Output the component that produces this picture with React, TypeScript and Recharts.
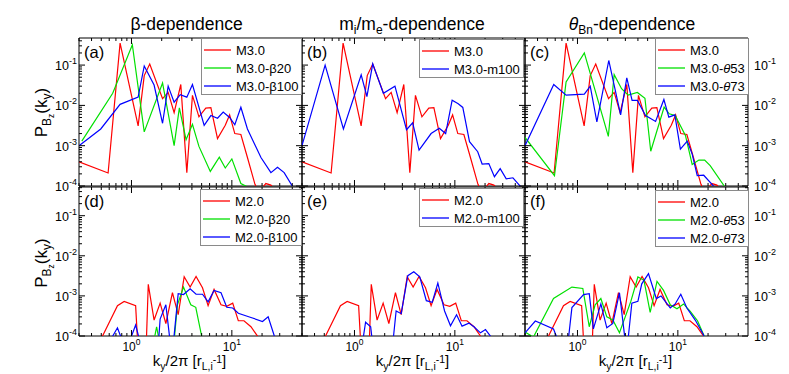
import React from 'react';
import { LineChart, Line, XAxis, YAxis, ReferenceArea } from 'recharts';

const FONT = '"Liberation Sans", Arial, Helvetica, sans-serif';
const W = 789;
const H = 374;

const RED = '#ff0000';
const GREEN = '#00e000';
const BLUE = '#0000ff';

// ---------- data: k_y/2pi values and P_Bz(k_y) values ----------
// top row
const M30_K = [0.3, 0.585, 0.77, 1.165, 1.34, 1.52, 2.04, 2.32, 2.66, 3.1, 3.56, 4.05, 4.7, 5.5, 6.18, 7.2, 8.6, 9.5, 10.7, 12.3, 14.3, 17.0, 18.5, 21.8, 24.5, 28.5];
const M30_P = [4.0e-4, 2.1e-4, 0.35, 3.1e-3, 0.055, 0.106, 0.0147, 0.021, 0.0066, 0.033, 2.15e-4, 0.0177, 0.0052, 0.0086, 0.0088, 1.5e-3, 3.2e-3, 5.8e-3, 2.0e-3, 1.9e-3, 5.1e-4, 1.1e-4, 7e-5, 1.15e-4, 1.05e-4, 7e-5];

const M30_B20_K = [0.32, 0.65, 1.02, 1.34, 2.04, 2.66, 3.0, 3.5, 4.05, 4.7, 6.1, 7.5, 8.6, 10.0, 12.3, 14.3, 16.0];
const M30_B20_P = [1.3e-3, 0.02, 0.32, 2.2e-3, 0.036, 1.0e-3, 8.7e-3, 1.4e-3, 3.4e-3, 9.6e-4, 2.3e-4, 5.2e-4, 2.8e-4, 4.7e-4, 1.15e-4, 9.5e-5, 7e-5];

const M30_B100_K = [0.3, 0.494, 0.77, 1.165, 1.34, 1.68, 2.04, 2.32, 2.66, 3.06, 3.56, 4.05, 5.3, 6.18, 7.2, 8.2, 9.5, 10.7, 12.3, 14.3, 19.5, 24.5, 28.5, 33.2, 40, 45];
const M30_B100_P = [1.0e-3, 2.6e-3, 0.0106, 0.016, 0.095, 0.032, 3.6e-3, 0.03, 0.012, 0.0185, 0.016, 0.033, 3.2e-3, 5.6e-3, 4.8e-3, 6.8e-3, 5.0e-3, 3.3e-3, 9.0e-3, 2.6e-3, 5.1e-4, 2.15e-4, 2.9e-4, 2.15e-4, 1.0e-4, 5.6e-5];

const M30_M100_K = [0.3, 0.51, 0.776, 1.166, 1.33, 1.52, 1.94, 2.53, 3.3, 3.8, 4.4, 5.8, 7.0, 8.1, 9.4, 10.8, 12.0, 14.0, 16.9, 18.7, 21.8, 24.8, 28.3, 32.5, 37.9, 44.7, 48];
const M30_M100_P = [1.0e-3, 0.1, 2.6e-3, 0.057, 0.0166, 0.107, 0.02, 0.03, 2.5e-3, 3.7e-3, 7.8e-4, 2.0e-3, 2.7e-3, 2.0e-3, 0.0135, 0.011, 8.9e-3, 1.26e-3, 7.1e-4, 3.5e-4, 3.6e-4, 1.7e-4, 2.7e-4, 1.5e-4, 1.6e-4, 1.0e-4, 6e-5];

const M30_T53_K = [0.3, 0.59, 0.77, 1.17, 2.03, 2.32, 2.75, 3.2, 3.95, 4.7, 5.37, 7.3, 8.2, 9.4, 11.9, 13.9, 16.2, 18.5, 21, 29, 31];
const M30_T53_P = [1.6e-3, 1.8e-4, 0.038, 0.2, 1.7e-3, 0.058, 0.026, 0.018, 0.021, 0.015, 7.3e-4, 9.1e-3, 6.2e-3, 5.6e-3, 1.8e-3, 3.4e-4, 4.4e-4, 4.4e-4, 3.2e-4, 1.0e-4, 8e-5];

const M30_T73_K = [0.3, 0.58, 0.77, 1.17, 1.34, 1.56, 2.05, 2.69, 3.1, 3.5, 3.95, 4.77, 6.0, 7.26, 8.13, 9.33, 10.6, 12.4, 13.9, 15.6, 18.1, 21.9, 24.5];
const M30_T73_P = [1.0e-3, 0.033, 0.018, 0.019, 0.03, 3.9e-3, 0.13, 5.8e-3, 0.048, 0.0133, 0.0133, 5.6e-3, 4.0e-3, 0.014, 5.1e-3, 5.8e-3, 8.2e-4, 1.3e-3, 6.2e-4, 1.8e-4, 1.85e-4, 1.1e-4, 8e-5];

// bottom row
const M20_K = [0.48, 0.725, 0.845, 1.1, 1.16, 1.4, 1.47, 1.68, 1.93, 2.2, 2.56, 2.92, 3.35, 3.84, 4.4, 5.1, 5.8, 6.65, 7.8, 8.9, 10.2, 11.6, 13.2, 15.5, 18, 19.4];
const M20_P = [7e-5, 5.7e-4, 7.3e-4, 5.7e-4, 5e-5, 5e-5, 1.94e-3, 2.5e-4, 6.6e-4, 2.05e-4, 1.2e-3, 3.4e-4, 3.0e-3, 1.66e-3, 3.05e-3, 1.6e-3, 5.7e-4, 1.45e-3, 6e-4, 5.5e-4, 6.6e-4, 2.4e-4, 2.4e-4, 1.7e-4, 1e-4, 5.8e-5];

const M20_B20_K = [1.62, 1.78, 1.95, 2.62, 2.87, 3.3, 3.9, 4.37, 5.0, 5.3];
const M20_B20_P = [5e-5, 1.7e-4, 5e-5, 5e-5, 6e-4, 1.66e-3, 6e-4, 5.2e-4, 1e-4, 5e-5];

const M20_B100_K = [0.6, 0.725, 0.82, 0.95, 1.1, 1.22, 1.85, 1.93, 2.2, 2.43, 2.62, 2.92, 3.3, 3.84, 4.4, 5.1, 5.8, 6.65, 7.8, 8.9, 10.2, 11.6, 15.5, 20.2, 23, 26.5, 28];
const M20_B100_P = [7e-5, 1.6e-4, 7e-5, 7e-5, 1.87e-4, 7e-5, 6e-5, 2.65e-4, 6e-4, 7e-5, 7e-5, 1.14e-3, 1.08e-3, 1.5e-3, 1.1e-3, 1.1e-3, 7.1e-4, 1.37e-3, 1.2e-3, 5.2e-4, 5.0e-4, 3.7e-4, 2.9e-4, 2.3e-4, 3.0e-4, 1e-4, 7e-5];

const M20_M100_K = [1.18, 1.29, 1.45, 1.52, 2.4, 2.6, 2.92, 3.4, 3.9, 4.47, 5.2, 5.95, 6.77, 7.9, 9.05, 10.4, 11.8, 13.8, 15.5, 18, 20.2, 22.6, 24];
const M20_M100_P = [5e-5, 2.2e-4, 1.7e-4, 6e-5, 6e-5, 4.2e-4, 3.6e-4, 3.2e-3, 4.0e-3, 3.0e-3, 7.6e-4, 6.9e-4, 2.1e-3, 4.2e-4, 1.8e-4, 3.4e-4, 1.76e-4, 2.1e-4, 1.7e-4, 1.2e-4, 1.45e-4, 1e-4, 7e-5];

const M20_T53_K = [0.3, 0.364, 0.577, 0.88, 1.13, 1.31, 1.5, 1.71, 1.96, 2.25, 2.62, 3.4, 4.0, 4.6, 5.3, 6.2, 7.2, 8.4, 9.8, 11.4, 13.3, 15.7, 18.3, 19.5];
const M20_T53_P = [1.26e-4, 9.4e-5, 8.6e-4, 1.66e-3, 1.53e-3, 1.7e-4, 6.0e-4, 8.6e-4, 3.0e-4, 2.5e-4, 1.2e-4, 7.3e-4, 2.96e-3, 2.45e-3, 3.9e-4, 2.3e-3, 1.37e-3, 6e-4, 4.8e-4, 6.3e-4, 4.1e-4, 2.4e-4, 1e-4, 7e-5];

const M20_T73_K = [0.3, 0.38, 0.577, 0.65, 0.8, 0.88, 1.15, 1.31, 1.44, 1.71, 1.96, 2.25, 2.62, 2.98, 3.15, 3.48, 4.0, 4.37, 5.1, 6.1, 6.8, 8.4, 9.4, 10.7, 12.3, 14.9, 18, 19];
const M20_T73_P = [1.2e-4, 2.36e-4, 1.5e-4, 7e-5, 6e-5, 5.1e-4, 1.08e-3, 1.14e-3, 1.5e-4, 6.3e-4, 1.6e-4, 2.05e-4, 1.2e-3, 8e-5, 6e-5, 6.6e-4, 7.3e-4, 2.0e-3, 3.6e-3, 8.6e-4, 1.0e-3, 5e-4, 6.3e-4, 1.1e-3, 5e-4, 2.5e-4, 1.08e-4, 7e-5];

// ---------- ticks / labels ----------
const X_DOMAIN = [0.3, 50];
const Y_DOMAIN_TOP = [1e-4, 0.47];
const Y_DOMAIN_BOTTOM = [1e-4, 0.52];
const X_TICKS = [0.3, 0.4, 0.5, 0.6, 0.7, 0.8, 0.9, 1, 2, 3, 4, 5, 6, 7, 8, 9, 10, 20, 30, 40];
const X_MAJOR = [1, 10];
const X_MAJOR_LABELS = ['0', '1'];
const Y_MANTISSAS = [1, 2, 3, 4, 5, 6, 7, 8, 9];
const Y_DECADES = [1e-4, 1e-3, 1e-2, 1e-1];
const Y_MAJOR_LABELS = ['-4', '-3', '-2', '-1'];

const TITLES = ['β-dependence', 'mi/me-dependence', 'θBn-dependence'];
const PANEL_LABELS = ['(a)', '(b)', '(c)', '(d)', '(e)', '(f)'];

const COLS = [79, 302, 525, 748];
const ROWS = [
  [38, 186],
  [187, 336],
];

const rows = (k: number[], p: number[]) => k.map((kv, i) => ({ k: kv, p: p[i] }));

const majorIndex = (v: number, majors: number[]) =>
  majors.findIndex((m) => Math.abs(v / m - 1) < 1e-6);

type Series = { name: string; k: number[]; p: number[]; color: string };
type PanelCfg = {
  col: number;
  row: number;
  series: Series[];
  legend: { x: number; y: number; w: number };
};

const PANELS: PanelCfg[] = [
  {
    col: 0, row: 0,
    series: [
      { name: 'M3.0', k: M30_K, p: M30_P, color: RED },
      { name: 'M3.0-β20', k: M30_B20_K, p: M30_B20_P, color: GREEN },
      { name: 'M3.0-β100', k: M30_B100_K, p: M30_B100_P, color: BLUE },
    ],
    legend: { x: 201, y: 38, w: 100 },
  },
  {
    col: 1, row: 0,
    series: [
      { name: 'M3.0', k: M30_K, p: M30_P, color: RED },
      { name: 'M3.0-m100', k: M30_M100_K, p: M30_M100_P, color: BLUE },
    ],
    legend: { x: 419, y: 39, w: 104 },
  },
  {
    col: 2, row: 0,
    series: [
      { name: 'M3.0', k: M30_K, p: M30_P, color: RED },
      { name: 'M3.0-θ53', k: M30_T53_K, p: M30_T53_P, color: GREEN },
      { name: 'M3.0-θ73', k: M30_T73_K, p: M30_T73_P, color: BLUE },
    ],
    legend: { x: 655, y: 38, w: 93 },
  },
  {
    col: 0, row: 1,
    series: [
      { name: 'M2.0', k: M20_K, p: M20_P, color: RED },
      { name: 'M2.0-β20', k: M20_B20_K, p: M20_B20_P, color: GREEN },
      { name: 'M2.0-β100', k: M20_B100_K, p: M20_B100_P, color: BLUE },
    ],
    legend: { x: 200, y: 189, w: 101 },
  },
  {
    col: 1, row: 1,
    series: [
      { name: 'M2.0', k: M20_K, p: M20_P, color: RED },
      { name: 'M2.0-m100', k: M20_M100_K, p: M20_M100_P, color: BLUE },
    ],
    legend: { x: 419, y: 188, w: 104 },
  },
  {
    col: 2, row: 1,
    series: [
      { name: 'M2.0', k: M20_K, p: M20_P, color: RED },
      { name: 'M2.0-θ53', k: M20_T53_K, p: M20_T53_P, color: GREEN },
      { name: 'M2.0-θ73', k: M20_T73_K, p: M20_T73_P, color: BLUE },
    ],
    legend: { x: 655, y: 190, w: 93 },
  },
];

// ---------- custom ticks ----------
const XTick = (props: any) => {
  const { x, y, payload, plotH, showLabel } = props;
  const mi = majorIndex(payload.value, X_MAJOR);
  const len = mi >= 0 ? 6 : 3;
  return (
    <g>
      <line x1={x} x2={x} y1={y} y2={y - len} stroke="#000" strokeWidth={1} />
      <line x1={x} x2={x} y1={y - plotH} y2={y - plotH + len} stroke="#000" strokeWidth={1} />
      {showLabel && mi >= 0 && (
        <text x={x} y={y + 15} textAnchor="middle" fontSize={12} fontFamily={FONT} fill="#000">
          10
          <tspan dy={-6} fontSize={8.5}>{X_MAJOR_LABELS[mi]}</tspan>
        </text>
      )}
    </g>
  );
};

const YTick = (props: any) => {
  const { x, y, payload, plotW, leftLabel, rightLabel } = props;
  const mi = majorIndex(payload.value, Y_DECADES);
  const len = mi >= 0 ? 6 : 3;
  return (
    <g>
      <line x1={x} x2={x + len} y1={y} y2={y} stroke="#000" strokeWidth={1} />
      <line x1={x + plotW} x2={x + plotW - len} y1={y} y2={y} stroke="#000" strokeWidth={1} />
      {leftLabel && mi >= 0 && (
        <text x={x - 2} y={y + 5} textAnchor="end" fontSize={12.5} fontFamily={FONT} fill="#000">
          10
          <tspan dy={-6} fontSize={9}>{Y_MAJOR_LABELS[mi]}</tspan>
        </text>
      )}
      {rightLabel && mi >= 0 && (
        <text x={x + plotW + 6} y={y + 5} textAnchor="start" fontSize={12.5} fontFamily={FONT} fill="#000">
          10
          <tspan dy={-6} fontSize={9}>{Y_MAJOR_LABELS[mi]}</tspan>
        </text>
      )}
    </g>
  );
};

function Panel({ cfg }: { cfg: PanelCfg }) {
  const x0 = COLS[cfg.col];
  const x1 = COLS[cfg.col + 1];
  const [y0, y1] = ROWS[cfg.row];
  const plotW = x1 - x0;
  const plotH = y1 - y0;
  const yDomain = cfg.row === 0 ? Y_DOMAIN_TOP : Y_DOMAIN_BOTTOM;
  const yTicks: number[] = [];
  Y_DECADES.forEach((d) => Y_MANTISSAS.forEach((m) => {
    const v = m * d;
    if (v <= yDomain[1]) yTicks.push(v);
  }));
  // axes get 1px of size (a zero-sized axis is not drawn); margins compensate
  return (
    <div style={{ position: 'absolute', left: 0, top: 0 }}>
      <LineChart width={W} height={H} margin={{ top: y0, bottom: H - y1 - 1, left: x0 - 1, right: W - x1 }}>
        <XAxis
          type="number"
          dataKey="k"
          scale="log"
          domain={X_DOMAIN}
          allowDataOverflow
          ticks={X_TICKS}
          interval={0}
          tickSize={0}
          tickMargin={0}
          axisLine={false}
          tickLine={false}
          height={1}
          tick={(p: any) => <XTick {...p} plotH={plotH} showLabel={cfg.row === 1} />}
        />
        <YAxis
          type="number"
          scale="log"
          domain={yDomain}
          allowDataOverflow
          ticks={yTicks}
          interval={0}
          tickSize={0}
          tickMargin={0}
          axisLine={false}
          tickLine={false}
          width={1}
          tick={(p: any) => (
            <YTick {...p} plotW={plotW} leftLabel={cfg.col === 0} rightLabel={cfg.col === 2} />
          )}
        />
        <ReferenceArea
          x1={X_DOMAIN[0]}
          x2={X_DOMAIN[1]}
          y1={yDomain[0]}
          y2={yDomain[1]}
          fill="none"
          fillOpacity={0}
          stroke="#000"
          strokeWidth={1}
          strokeOpacity={1}
        />
        {cfg.series.map((s) => (
          <Line
            key={s.name}
            data={rows(s.k, s.p)}
            dataKey="p"
            type="linear"
            stroke={s.color}
            strokeWidth={1.2}
            dot={false}
            activeDot={false}
            isAnimationActive={false}
          />
        ))}
      </LineChart>
    </div>
  );
}

const renderName = (name: string) => {
  const parts = name.split('θ');
  if (parts.length === 1) return name;
  return (
    <>
      {parts[0]}
      <tspan fontStyle="italic">θ</tspan>
      {parts[1]}
    </>
  );
};

function Overlay() {
  const titleX = [186.5, 412, 632];
  return (
    <svg
      width={W}
      height={H}
      style={{ position: 'absolute', left: 0, top: 0, zIndex: 5 }}
      fontFamily={FONT}
    >
      {/* column titles */}
      <text x={titleX[0]} y={29.5} textAnchor="middle" fontSize={17.5} fill="#000">
        {TITLES[0]}
      </text>
      <text x={titleX[1]} y={29.5} textAnchor="middle" fontSize={17.5} fill="#000">
        m<tspan dy={4} fontSize={12}>i</tspan>
        <tspan dy={-4}>/m</tspan>
        <tspan dy={4} fontSize={12}>e</tspan>
        <tspan dy={-4}>-dependence</tspan>
      </text>
      <text x={titleX[2]} y={29.5} textAnchor="middle" fontSize={17.5} fill="#000">
        <tspan fontStyle="italic">θ</tspan>
        <tspan dy={4} fontSize={12}>Bn</tspan>
        <tspan dy={-4}>-dependence</tspan>
      </text>

      {/* y-axis titles */}
      {[112.5, 263].map((cy, i) => (
        <text
          key={'yt' + i}
          x={47}
          y={cy}
          transform={`rotate(-90 47 ${cy})`}
          textAnchor="middle"
          fontSize={17}
          fill="#000"
        >
          P<tspan dy={4} fontSize={12}>B</tspan>
          <tspan dy={3} fontSize={8.5}>z</tspan>
          <tspan dy={-7} fontSize={17}>(k</tspan>
          <tspan dy={4} fontSize={12}>y</tspan>
          <tspan dy={-4} fontSize={17}>)</tspan>
        </text>
      ))}

      {/* x-axis titles */}
      {[0, 1, 2].map((c) => {
        const cx = (COLS[c] + COLS[c + 1]) / 2 - 1;
        return (
          <text key={'xt' + c} x={cx} y={366} textAnchor="middle" fontSize={15} fill="#000">
            k<tspan dy={4} fontSize={10.5}>y</tspan>
            <tspan dy={-4}>/2π [r</tspan>
            <tspan dy={4} fontSize={10.5}>L,i</tspan>
            <tspan dy={-7} fontSize={10.5}>-1</tspan>
            <tspan dy={3}>]</tspan>
          </text>
        );
      })}

      {/* panel labels */}
      {PANELS.map((p, i) => (
        <text
          key={'pl' + i}
          x={COLS[p.col] + 5}
          y={p.row === 0 ? 57.5 : 207}
          fontSize={16.5}
          fill="#000"
        >
          {PANEL_LABELS[i]}
        </text>
      ))}

      {/* legends */}
      {PANELS.map((p, i) => {
        const n = p.series.length;
        const h = 11.5 + 18 * (n - 1) + 8.5;
        const { x, y, w } = p.legend;
        return (
          <g key={'lg' + i}>
            <rect x={x + 0.5} y={y + 0.5} width={w} height={h} fill="#fff" stroke="#8a8a8a" strokeWidth={1} />
            {p.series.map((s, j) => {
              const ry = y + 12 + 18 * j;
              return (
                <g key={s.name}>
                  <line x1={x + 3} x2={x + 30} y1={ry} y2={ry} stroke={s.color} strokeWidth={1.3} />
                  <text x={x + 35} y={ry + 4.5} fontSize={13} fill="#000">
                    {renderName(s.name)}
                  </text>
                </g>
              );
            })}
          </g>
        );
      })}
    </svg>
  );
}

export default function App() {
  return (
    <div
      style={{
        position: 'absolute',
        left: 0,
        top: 0,
        width: W,
        height: H,
        background: '#fff',
        fontFamily: FONT,
        overflow: 'hidden',
      }}
    >
      {PANELS.map((cfg, i) => (
        <Panel key={i} cfg={cfg} />
      ))}
      <Overlay />
    </div>
  );
}
